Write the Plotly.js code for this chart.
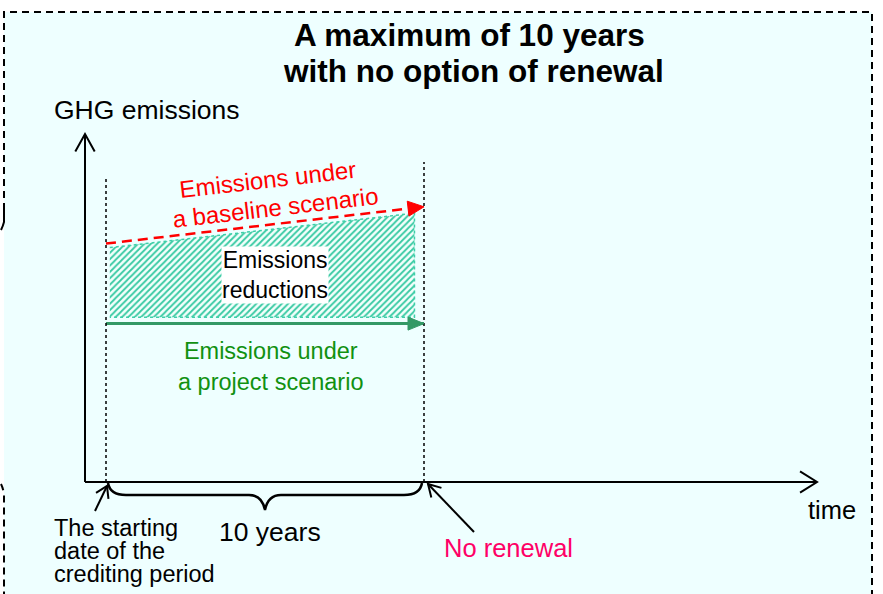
<!DOCTYPE html>
<html>
<head>
<meta charset="utf-8">
<script src="https://cdn.plot.ly/plotly-3.0.1.min.js"></script>
<style>html,body{margin:0;padding:0;background:#fff;}#chart{width:883px;height:594px;}</style>
</head>
<body>
<div id="chart"></div>
<script>
// ---- data (time in years, emissions in arbitrary units) ----
const years = [0, 10];
const baselineEmissions = [14.9, 17.2];
const projectEmissions = [9.9, 9.9];
const reductionYears = [0.12, 9.7];
const reductionTop = [14.65, 16.8];
const reductionBottom = [10.3, 10.3];
const creditingYears = 10;

// ---- page geometry (pixel <-> data) ----
const W = 883, H = 594;
const X0PX = 106, XS = 31.8, Y0PX = 482, YS = 16;
const dx = px => (px - X0PX) / XS;
const dy = py => (Y0PX - py) / YS;
const toPx = x => X0PX + x * XS;
const toPy = y => Y0PX - y * YS;

function P(str) {
  // convert a pixel path ("M x y L x y Q ...") to data coordinates
  const toks = str.trim().split(/[\s,]+/);
  let s = '', isX = true;
  for (const t of toks) {
    if (/^[A-Za-z]$/.test(t)) { s += t; isX = true; continue; }
    const v = parseFloat(t);
    if (isX) { s += dx(v).toFixed(4) + ','; }
    else { s += dy(v).toFixed(4) + ' '; }
    isX = !isX;
  }
  return s.trim();
}
function chevron(tx, ty, fx, fy, len, ang) {
  const a = Math.atan2(fy - ty, fx - tx);
  const r = ang * Math.PI / 180;
  const ax = tx + len * Math.cos(a + r), ay = ty + len * Math.sin(a + r);
  const bx = tx + len * Math.cos(a - r), by = ty + len * Math.sin(a - r);
  return P(`M ${ax} ${ay} L ${tx} ${ty} L ${bx} ${by}`);
}
function triangle(tx, ty, fx, fy, len, hw) {
  const a = Math.atan2(fy - ty, fx - tx);
  const bx = tx + len * Math.cos(a), by = ty + len * Math.sin(a);
  const nx = -Math.sin(a), ny = Math.cos(a);
  return P(`M ${tx} ${ty} L ${bx + nx * hw} ${by + ny * hw} L ${bx - nx * hw} ${by - ny * hw} Z`);
}

const FONT = 'Liberation Sans, Arial, Helvetica, sans-serif';
const BG = '#EEFFFF';
const RED = '#FF0000', GREEN_LINE = '#339966', GREEN_TXT = '#119111', PINK = '#FF0066';

// ---- traces ----
const reductionTrace = {
  x: reductionYears.concat(reductionYears.slice().reverse()),
  y: reductionTop.concat(reductionBottom.slice().reverse()),
  mode: 'lines', fill: 'toself',
  fillpattern: { shape: '/', fgcolor: '#36C9A2', bgcolor: '#F4FFFC', size: 4.5, solidity: 0.4 },
  fillcolor: 'rgba(0,0,0,0)',
  line: { color: '#3CCFA8', width: 1.5, dash: 'dot' },
  hoverinfo: 'skip', showlegend: false
};
const baselineTrace = {
  x: years, y: baselineEmissions, mode: 'lines',
  line: { color: RED, width: 2.5, dash: '10px,6px' },
  hoverinfo: 'skip', showlegend: false
};
const projectTrace = {
  x: years, y: projectEmissions, mode: 'lines',
  line: { color: GREEN_LINE, width: 3 },
  hoverinfo: 'skip', showlegend: false
};

// ---- shapes ----
const shapes = [];
// background panel
shapes.push({ type: 'rect', xref: 'x', yref: 'y', x0: dx(4), x1: dx(872), y0: dy(12), y1: dy(600),
  fillcolor: BG, line: { width: 0 }, layer: 'below' });
// dashed frame
const frameLine = { color: '#000', width: 2, dash: '7px,5px' };
shapes.push({ type: 'path', path: P('M 4 222 L 4 12 L 872 12 L 872 600'), line: frameLine, layer: 'above' });
shapes.push({ type: 'path', path: P('M 4 210 L 4 222 Q 3 226 1 230'), line: { color: '#000', width: 2 }, layer: 'above' });
shapes.push({ type: 'path', path: P('M 1 484 Q 3 488 4 494 L 4 600'), line: frameLine, layer: 'above' });

// axes arrows
const axLine = { color: '#000', width: 2 };
const yAxisX = 85, yTop = 134, xRight = 817;
shapes.push({ type: 'path', path: P(`M ${yAxisX} ${toPy(0)} L ${yAxisX} ${yTop}`), line: axLine });
shapes.push({ type: 'path', path: chevron(yAxisX, yTop, yAxisX, yTop + 50, 20, 29), line: axLine });
shapes.push({ type: 'path', path: P(`M ${yAxisX} ${toPy(0)} L ${xRight} ${toPy(0)}`), line: axLine });
shapes.push({ type: 'path', path: chevron(xRight, toPy(0), xRight - 50, toPy(0), 20, 32), line: axLine });

// dotted period boundaries
shapes.push({ type: 'line', x0: years[0], x1: years[0], y0: 0, y1: dy(178), line: { color: '#000', width: 1.5, dash: 'dot' } });
shapes.push({ type: 'line', x0: creditingYears, x1: creditingYears, y0: 0, y1: dy(162), line: { color: '#000', width: 1.5, dash: 'dot' } });

// arrowheads at series ends
shapes.push({ type: 'path', path: triangle(toPx(years[1]), toPy(baselineEmissions[1]), toPx(years[0]), toPy(baselineEmissions[0]), 16, 7.5),
  fillcolor: RED, line: { color: RED, width: 1 } });
shapes.push({ type: 'path', path: triangle(toPx(years[1]), toPy(projectEmissions[1]), toPx(years[0]), toPy(projectEmissions[0]), 16, 6.5),
  fillcolor: GREEN_LINE, line: { color: GREEN_LINE, width: 1 } });

// curly brace under the crediting period
const bx0 = toPx(0) + 2, bx1 = toPx(creditingYears) - 2, bm = (bx0 + bx1) / 2, by0 = toPy(0) + 1;
shapes.push({ type: 'path', line: { color: '#000', width: 2.5 },
  path: P(`M ${bx0} ${by0} Q ${bx0 + 2} ${by0 + 12} ${bx0 + 18} ${by0 + 12} L ${bm - 16} ${by0 + 12} Q ${bm - 3} ${by0 + 12} ${bm} ${by0 + 27} Q ${bm + 3} ${by0 + 12} ${bm + 16} ${by0 + 12} L ${bx1 - 18} ${by0 + 12} Q ${bx1 - 2} ${by0 + 12} ${bx1} ${by0}`) });

// pointer arrows
const thin = { color: '#000', width: 2 };
shapes.push({ type: 'path', path: P(`M 95 511 L ${toPx(0) + 1} ${toPy(0) + 4}`), line: thin });
shapes.push({ type: 'path', path: chevron(toPx(0) + 1, toPy(0) + 4, 95, 511, 13, 32), line: thin });
shapes.push({ type: 'path', path: P(`M 474 532 L ${toPx(creditingYears) + 4} ${toPy(0) + 2}`), line: thin });
shapes.push({ type: 'path', path: chevron(toPx(creditingYears) + 4, toPy(0) + 2, 474, 532, 14, 30), line: thin });

// ---- annotations ----
function ann(text, px, py, size, color, extra) {
  return Object.assign({ text: text, x: dx(px), y: dy(py), xref: 'x', yref: 'y', showarrow: false,
    font: { family: FONT, size: size, color: color || '#000' }, xanchor: 'center', yanchor: 'middle' }, extra || {});
}
const tilt = -Math.atan2(toPy(baselineEmissions[0]) - toPy(baselineEmissions[1]), toPx(years[1]) - toPx(years[0])) * 180 / Math.PI;
const annotations = [
  ann('<b>A maximum of 10 years</b>', 469, 35, 31.5),
  ann('<b>with no option of renewal</b>', 473, 71, 31.5),
  ann('GHG emissions', 52, 110, 26.5, '#000', { xanchor: 'left' }),
  ann('time', 832, 510, 25.5),
  ann('10 years', 270, 532, 26.5),
  ann('The starting', 52, 528, 23.5, '#000', { xanchor: 'left' }),
  ann('date of the', 52, 551, 23.5, '#000', { xanchor: 'left' }),
  ann('crediting period', 52, 574, 23.5, '#000', { xanchor: 'left' }),
  ann('No renewal', 508, 548, 25.5, PINK),
  ann('Emissions under', 267, 179, 24, RED, { textangle: tilt }),
  ann('a baseline scenario', 275, 207, 24, RED, { textangle: tilt }),
  ann('Emissions<br>reductions', 275, 275, 23, '#000', { bgcolor: '#FFFFFF', borderpad: 0 }),
  ann('Emissions under<br>a project scenario', 271, 366, 23.5, GREEN_TXT)
];

const layout = {
  width: W, height: H,
  margin: { l: 0, r: 0, t: 0, b: 0, pad: 0 },
  paper_bgcolor: '#FFFFFF', plot_bgcolor: '#FFFFFF',
  xaxis: { range: [dx(0), dx(W)], visible: false, fixedrange: true },
  yaxis: { range: [dy(H), dy(0)], visible: false, fixedrange: true },
  showlegend: false,
  shapes: shapes,
  annotations: annotations
};

Plotly.newPlot('chart', [reductionTrace, baselineTrace, projectTrace], layout, { displayModeBar: false, staticPlot: true });
</script>
</body>
</html>
